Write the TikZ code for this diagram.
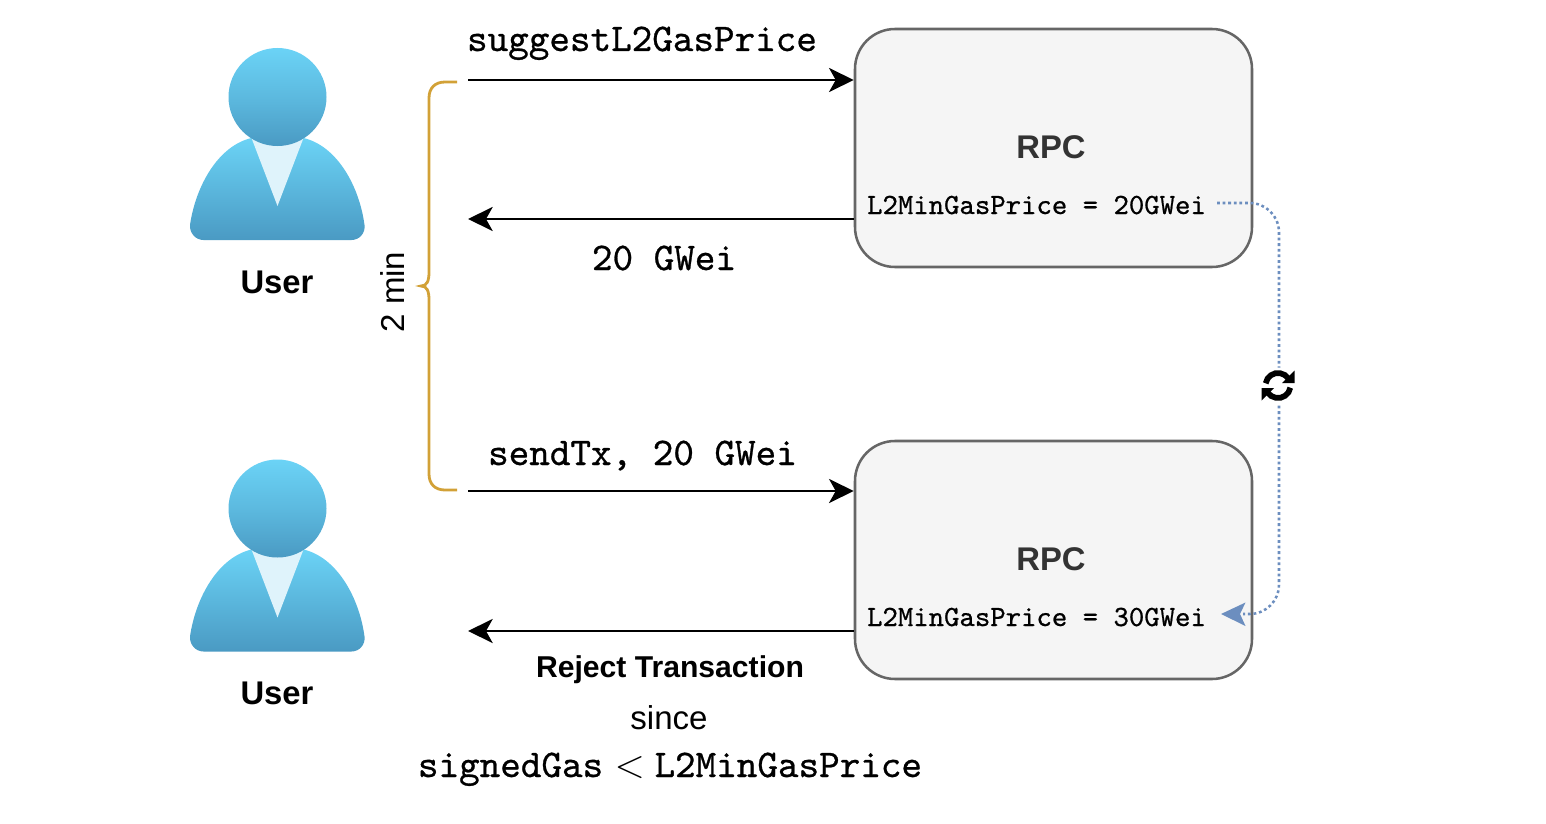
\documentclass[tikz,border=0pt]{standalone}
\usepackage{fontspec}
\usepackage{graphicx}
\setmainfont{Liberation Sans}
\newfontfamily\codefont{lmmono10-regular}[Extension=.otf,FakeBold=0.7]
\usetikzlibrary{arrows.meta,calc}
\definecolor{skytop}{HTML}{6BD3F6}
\definecolor{skybot}{HTML}{4A9AC3}
\definecolor{vee}{HTML}{DFF3FB}
\definecolor{boxfill}{HTML}{F5F5F5}
\definecolor{boxline}{HTML}{666666}
\definecolor{bracegold}{HTML}{D2A137}
\definecolor{dotblue}{HTML}{6C8EBF}
\tikzset{
  rpcbox/.style={draw=boxline,fill=boxfill,line width=1.9pt,rounded corners=30pt,minimum width=297.75pt,minimum height=178.5pt,inner sep=0pt},
  flow/.style={line width=2pt,draw=black,-{Stealth[length=18.5pt,width=18pt,inset=5pt]}},
  bracepath/.style={draw=bracegold,line width=2.1pt},
  syncline/.style={draw=dotblue,line width=1.9pt,line cap=butt,dash pattern=on 2.1pt off 2.1pt},
  sanslabel/.style={font=\fontsize{24.8}{28}\selectfont,anchor=base,inner sep=0pt,text=black},
  boldlabel/.style={sanslabel,font=\fontsize{24.6}{28}\selectfont\bfseries},
  rpclabel/.style={boldlabel,text=black!80},
  codelabel/.style={font=\fontsize{29.4}{32}\selectfont\codefont,anchor=base,inner sep=0pt},
  gaslabel/.style={font=\fontsize{22}{26}\selectfont\codefont,anchor=base,inner sep=0pt},
  pics/person/.style={code={
    \shade[top color=skytop,bottom color=skybot] (-87.5,128) .. controls (-82,90) and (-60,49) .. (-26,41)
      -- (26,41) .. controls (60,49) and (82,90) .. (87,128)
      .. controls (88,136) and (82,143) .. (74,143) -- (-74,143) .. controls (-82,143) and (-88,136) .. (-87.5,128) -- cycle;
    \fill[vee] (-26,41) -- (26,41) -- (0,109) -- cycle;
    \shade[top color=skytop,bottom color=skybot,middle color=skytop!55!skybot] (0,0) circle[radius=49];
  }},
}
\begin{document}
\begin{tikzpicture}[x=0.75pt,y=-0.75pt]
\useasboundingbox (0,0) rectangle (1546,824);
\pic at (277.5,97) {person};
\pic at (277.5,508.5) {person};
\node[boldlabel] (userA) at (277,293) {User};
\node[boldlabel] (userB) at (277,704) {User};
\node[rpcbox] (rpcA) at (1053.5,148) {};
\node[rpcbox] (rpcB) at (1053.5,560) {};
\node[rpclabel] (rpcAt) at (1051,158) {RPC};
\node[rpclabel] (rpcBt) at (1051,570) {RPC};
\node[gaslabel] (gasA) at (1036.5,214) {L2MinGasPrice = 20GWei};
\node[gaslabel] (gasB) at (1036.5,626) {L2MinGasPrice = 30GWei};
\coordinate (a1) at (468,80);
\coordinate (a2) at (468,219);
\coordinate (b1) at (468,491);
\coordinate (b2) at (468,631);
\draw[flow] (a1) -- (a1 -| rpcA.west);
\draw[flow] (a2 -| rpcA.west) -- (a2);
\draw[flow] (b1) -- (b1 -| rpcB.west);
\draw[flow] (b2 -| rpcB.west) -- (b2);
\node[codelabel] (t1) at (642,51) {suggestL2GasPrice};
\node[codelabel] (t2) at (664,270) {20 GWei};
\node[codelabel] (t3) at (642.5,465) {sendTx, 20 GWei};
\node[boldlabel,font=\fontsize{22.6}{26}\selectfont\bfseries] (t4) at (670,677) {Reject Transaction};
\node[sanslabel] (t5) at (669,729) {since};
\node[codelabel] (t6) at (670,777) {signedGas\hspace*{8.5pt}\scalebox{1.2}{$<$}\hspace*{7.25pt}L2MinGasPrice};
\node[sanslabel,rotate=90] (twomin) at (404,292) {2 min};
\draw[bracepath] (457,82) -- (445,82) .. controls (435,82) and (429,88) .. (429,98) -- (429,272) .. controls (429,281) and (427,286) .. (421,286)
  .. controls (427,286) and (429,291) .. (429,300) -- (429,474) .. controls (429,484) and (435,490) .. (445,490) -- (457,490);
\coordinate (bend1) at (1279,203);
\coordinate (bend2) at (1279,614);
\draw[syncline,rounded corners=22pt] (1217,203) -- (bend1) -- (bend2) -- (1243,614);
\fill[dotblue] (1221,614) -- (1245.5,602.5) -- (1240,614) -- (1245.5,626) -- cycle;
% sync icon
\fill[white] (1278,385.5) circle[radius=18];
\begin{scope}[shift={(1278,385.5)}]
  \draw[line width=4.3pt,black] (190:12.5) arc[start angle=190,end angle=325,radius=12.5];
  \fill[black] (16.5,-15) -- (16.5,-2.5) -- (4,-2.5) -- cycle;
  \draw[line width=4.3pt,black] (10:12.5) arc[start angle=10,end angle=145,radius=12.5];
  \fill[black] (-16.5,2.5) -- (-4,2.5) -- (-16.5,15) -- cycle;
\end{scope}
\end{tikzpicture}
\end{document}
